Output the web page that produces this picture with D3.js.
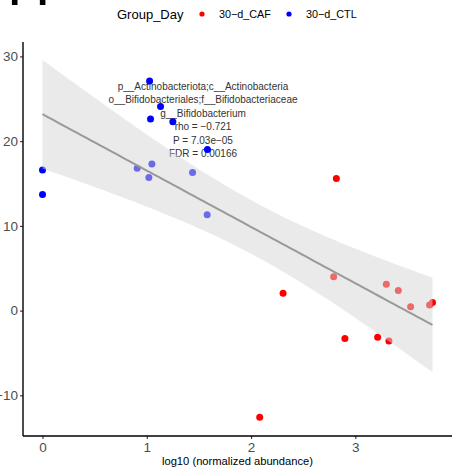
<!DOCTYPE html>
<html>
<head>
<meta charset="utf-8">
<script src="https://cdn.jsdelivr.net/npm/d3@7"></script>
<style>
  body { margin: 0; background: #fff; }
  text { font-family: "Liberation Sans", Arial, sans-serif; }
</style>
</head>
<body>
<svg id="chart" width="474" height="476"></svg>
<script>
// data
const ctlX = [0, 0, 1.027, 1.132, 1.036, 1.25, 1.582, 0.908, 1.049, 1.02, 1.439, 1.579];
const ctlY = [16.6, 13.7, 27.1, 24.1, 22.6, 22.3, 19.0, 16.8, 17.3, 15.7, 16.3, 11.3];
const cafX = [2.792, 2.307, 3.297, 3.412, 3.53, 3.712, 3.74, 2.9, 3.214, 3.322, 2.083, 2.818];
const cafY = [4.0, 2.05, 3.1, 2.37, 0.44, 0.67, 0.95, -3.28, -3.16, -3.59, -12.6, 15.6];
const groups = ["30\u2212d_CAF", "30\u2212d_CTL"];
const groupColors = ["#ff0000", "#0000ff"];
const xTicks = [0, 1, 2, 3];
const yTicks = [-10, 0, 10, 20, 30];
const statLines = [
  "p__Actinobacteriota;c__Actinobacteria",
  "o__Bifidobacteriales;f__Bifidobacteriaceae",
  "g__Bifidobacterium",
  "rho = \u22120.721",
  "P = 7.03e\u221205",
  "FDR = 0.00166"
];
const tCrit = 2.074; // qt(0.975, 22)

let points = [];
ctlX.forEach((x, i) => points.push({x: x, y: ctlY[i], g: 1}));
cafX.forEach((x, i) => points.push({x: x, y: cafY[i], g: 0}));

const svg = d3.select("#chart");
const mLeft = 23, mRight = 452, mTop = 42, mBottom = 436;

let x = d3.scaleLinear().domain([-0.187, 3.927]).range([mLeft, mRight]);
let y = d3.scaleLinear().domain([-14.8, 31.7]).range([mBottom, mTop]);

// panel label cut off at the top edge
svg.append("text").text("H")
  .attr("x", 7).attr("y", 5)
  .style("font-size", "60px").style("fill", "#000");

// linear fit + 95% CI
let n = points.length;
let mx = d3.mean(points, d => d.x), my = d3.mean(points, d => d.y);
let sxx = d3.sum(points, d => (d.x - mx) * (d.x - mx));
let sxy = d3.sum(points, d => (d.x - mx) * (d.y - my));
let b = sxy / sxx, a = my - b * mx;
let sse = d3.sum(points, d => Math.pow(d.y - (a + b * d.x), 2));
let s = Math.sqrt(sse / (n - 2));
let xmin = d3.min(points, d => d.x), xmax = d3.max(points, d => d.x);
let xs = d3.range(0, 81).map(i => xmin + i * (xmax - xmin) / 80);
let band = xs.map(function(v) {
  let fit = a + b * v;
  let se = s * Math.sqrt(1 / n + (v - mx) * (v - mx) / sxx);
  return {x: v, fit: fit, lo: fit - tCrit * se, hi: fit + tCrit * se};
});

// annotation text
let ann = svg.append("g");
statLines.forEach(function(t, i) {
  ann.append("text").text(t)
    .attr("x", 203).attr("y", 90 + i * 13.4)
    .attr("text-anchor", "middle")
    .style("font-size", "10px").style("fill", "#333");
});

svg.append("g").selectAll("circle")
  .data(points).enter().append("circle")
  .attr("cx", d => x(d.x)).attr("cy", d => y(d.y))
  .attr("r", 3.5)
  .style("fill", d => groupColors[d.g]);

svg.append("path").datum(band)
  .attr("d", d3.area().x(d => x(d.x)).y0(d => y(d.lo)).y1(d => y(d.hi)))
  .style("fill", "#d6d6d6").style("opacity", 0.5);

svg.append("path").datum(band)
  .attr("d", d3.line().x(d => x(d.x)).y(d => y(d.fit)))
  .style("fill", "none").style("stroke", "#999").style("stroke-width", 2);

// axes
let xAxis = svg.append("g").attr("transform", "translate(0," + mBottom + ")")
  .call(d3.axisBottom(x).tickValues(xTicks).tickSize(3).tickPadding(3).tickFormat(d3.format("d")));
let yAxis = svg.append("g").attr("transform", "translate(" + mLeft + ",0)")
  .call(d3.axisLeft(y).tickValues(yTicks).tickSize(3).tickPadding(2).tickFormat(d3.format("d")));
[xAxis, yAxis].forEach(function(g) {
  g.select(".domain").remove();
  g.selectAll(".tick line").style("stroke", "#333").style("stroke-width", 1.1);
  g.selectAll(".tick text").style("font-size", "13.5px").style("fill", "#4d4d4d")
    .style("font-family", "Liberation Sans, Arial, sans-serif");
});
svg.append("line").attr("x1", mLeft).attr("x2", mLeft).attr("y1", mTop).attr("y2", mBottom)
  .style("stroke", "#000").style("stroke-width", 1.4);
svg.append("line").attr("x1", mLeft).attr("x2", mRight).attr("y1", mBottom).attr("y2", mBottom)
  .style("stroke", "#000").style("stroke-width", 1.4);

svg.append("text").text("log10 (normalized abundance)")
  .attr("x", 237.5).attr("y", 465)
  .attr("text-anchor", "middle")
  .style("font-size", "11.2px").style("fill", "#000");

// legend
let legend = svg.append("g");
legend.append("text").text("Group_Day")
  .attr("x", 117).attr("y", 18.5)
  .style("font-size", "13px").style("fill", "#000");
let legendX = [202, 289];
groups.forEach(function(gname, i) {
  legend.append("circle").attr("cx", legendX[i]).attr("cy", 14).attr("r", 2.6)
    .style("fill", groupColors[i]);
  legend.append("text").text(gname)
    .attr("x", legendX[i] + 17).attr("y", 17.8)
    .style("font-size", "10.8px").style("fill", "#000");
});
</script>
</body>
</html>
